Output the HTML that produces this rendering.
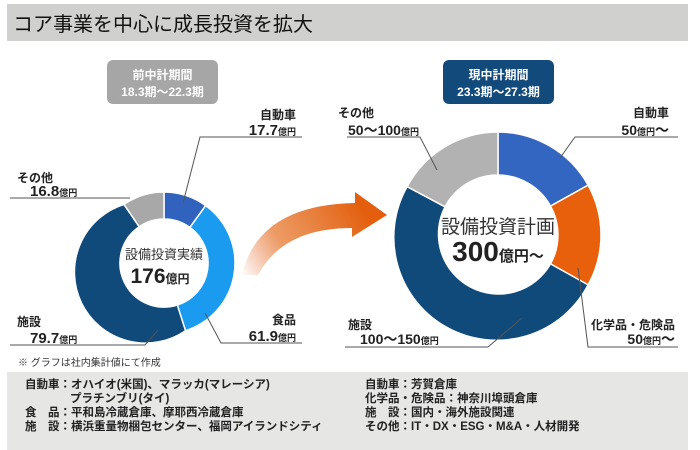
<!DOCTYPE html>
<html><head><meta charset="utf-8"><style>
html,body{margin:0;padding:0;background:#fff;}
svg{display:block;font-family:"Liberation Sans","Noto Sans CJK JP",sans-serif;}
.b{font-weight:bold;fill:#222;}
</style></head><body>
<svg width="700" height="450" viewBox="0 0 700 450" xmlns="http://www.w3.org/2000/svg">
<defs>
<linearGradient id="ag" x1="245" y1="275" x2="360" y2="205" gradientUnits="userSpaceOnUse">
<stop offset="0" stop-color="#e6703a" stop-opacity="0.05"/>
<stop offset="0.35" stop-color="#e8823e" stop-opacity="0.8"/>
<stop offset="1" stop-color="#e35f0e"/>
</linearGradient>
</defs>
<rect x="7" y="4" width="681" height="37" fill="#d0d1cf"/>
<text x="13" y="31" font-size="20" fill="#111">コア事業を中心に成長投資を拡大</text>

<rect x="107" y="60" width="111" height="44" rx="6" fill="#a6a6a6"/>
<text x="162.5" y="79" font-size="12" fill="#fff" text-anchor="middle" font-weight="bold">前中計期間</text>
<text x="162.5" y="96" font-size="12" fill="#fff" text-anchor="middle" font-weight="bold">18.3期～22.3期</text>
<rect x="443" y="60" width="111" height="44" rx="6" fill="#134a7c"/>
<text x="498.5" y="79" font-size="12" fill="#fff" text-anchor="middle" font-weight="bold">現中計期間</text>
<text x="498.5" y="96" font-size="12" fill="#fff" text-anchor="middle" font-weight="bold">23.3期～27.3期</text>

<path d="M242,275 Q258,205 355,203 L355,192 L387,215 L352,237 L352,228 Q283,228 258,275 Z" fill="url(#ag)"/>

<g id="left" stroke="#fff" stroke-width="1.5">
<path d="M164,192 A71,71 0 0 1 205.7,205.6 L189.9,227.4 A44,44 0 0 0 164,219 Z" fill="#3062be"/>
<path d="M205.7,205.6 A71,71 0 0 1 185.5,330.7 L177.3,305 A44,44 0 0 0 189.9,227.4 Z" fill="#1a9bf0"/>
<path d="M185.5,330.7 A71,71 0 1 1 124,204.4 L139.2,226.7 A44,44 0 0 0 177.3,305 Z" fill="#0f4a7a"/>
<path d="M124,204.4 A71,71 0 0 1 164,192 L164,219 A44,44 0 0 0 139.2,226.7 Z" fill="#a8a8a8"/>
</g>
<text x="164" y="259" font-size="13" text-anchor="middle" fill="#333">設備投資実績</text>
<text x="160" y="283" font-size="21" text-anchor="middle" class="b">176<tspan font-size="12">億円</tspan></text>

<g id="right" stroke="#fff" stroke-width="1.5">
<path d="M498,132 A103,103 0 0 1 588.1,185.1 L550.5,206.1 A60,60 0 0 0 498,175 Z" fill="#3366c0"/>
<path d="M588.1,185.1 A103,103 0 0 1 588.1,284.9 L550.5,263.9 A60,60 0 0 0 550.5,206.1 Z" fill="#e8600c"/>
<path d="M588.1,284.9 A103,103 0 1 1 407.1,186.6 L445,206.8 A60,60 0 0 0 550.5,263.9 Z" fill="#0f4a7a"/>
<path d="M407.1,186.6 A103,103 0 0 1 498,132 L498,175 A60,60 0 0 0 445,206.8 Z" fill="#b1b2b1"/>
</g>
<text x="498" y="233" font-size="19" text-anchor="middle" fill="#333">設備投資計画</text>
<text x="498" y="261" font-size="28" text-anchor="middle" class="b">300<tspan font-size="15">億円～</tspan></text>

<g stroke="#555" stroke-width="1" fill="none">
<polyline points="183,203 200,137 302,137"/>
<polyline points="10,198 130,198"/>
<polyline points="205,313 221,343 302,343"/>
<polyline points="10,345 145,345 158,330"/>
<polyline points="347,137 420,137 437,170"/>
<polyline points="560,158 575,137 678,137"/>
<polyline points="578,268 588,347 678,347"/>
<polyline points="345,347 488,347 522,318"/>
</g>

<g font-size="12" class="b">
<text x="296" y="119" text-anchor="end" class="b">自動車</text>
<text x="296" y="135" text-anchor="end" font-size="15" class="b">17.7<tspan font-size="9">億円</tspan></text>
<text x="17" y="182" class="b">その他</text>
<text x="30" y="196" font-size="15" class="b">16.8<tspan font-size="9">億円</tspan></text>
<text x="296" y="324" text-anchor="end" class="b">食品</text>
<text x="296" y="341" text-anchor="end" font-size="15" class="b">61.9<tspan font-size="9">億円</tspan></text>
<text x="17" y="326" class="b">施設</text>
<text x="30" y="343" font-size="15" class="b">79.7<tspan font-size="9">億円</tspan></text>

<text x="338" y="117" class="b">その他</text>
<text x="348" y="135" font-size="14" class="b">50～100<tspan font-size="9">億円</tspan></text>
<text x="669" y="117" text-anchor="end" class="b">自動車</text>
<text x="669" y="135" text-anchor="end" font-size="14" class="b">50<tspan font-size="9">億円</tspan>～</text>
<text x="675" y="329" text-anchor="end" class="b">化学品・危険品</text>
<text x="675" y="344" text-anchor="end" font-size="14" class="b">50<tspan font-size="9">億円</tspan>～</text>
<text x="348" y="329" class="b">施設</text>
<text x="360" y="344" font-size="14" class="b">100～150<tspan font-size="9">億円</tspan></text>
</g>

<text x="18" y="366" font-size="10" fill="#333">※ グラフは社内集計値にて作成</text>
<rect x="7" y="372" width="681" height="78" fill="#e6e6e5"/>
<g font-size="11.5" font-weight="bold" fill="#222">
<text x="25" y="388">自動車：オハイオ(米国)、マラッカ(マレーシア)</text>
<text x="70" y="402">プラチンブリ(タイ)</text>
<text x="25" y="416">食　品：平和島冷蔵倉庫、摩耶西冷蔵倉庫</text>
<text x="25" y="430">施　設：横浜重量物梱包センター、福岡アイランドシティ</text>
<text x="365" y="388">自動車：芳賀倉庫</text>
<text x="365" y="402">化学品・危険品：神奈川埠頭倉庫</text>
<text x="365" y="416">施　設：国内・海外施設関連</text>
<text x="365" y="430">その他：IT・DX・ESG・M&amp;A・人材開発</text>
</g>
</svg>
</body></html>
